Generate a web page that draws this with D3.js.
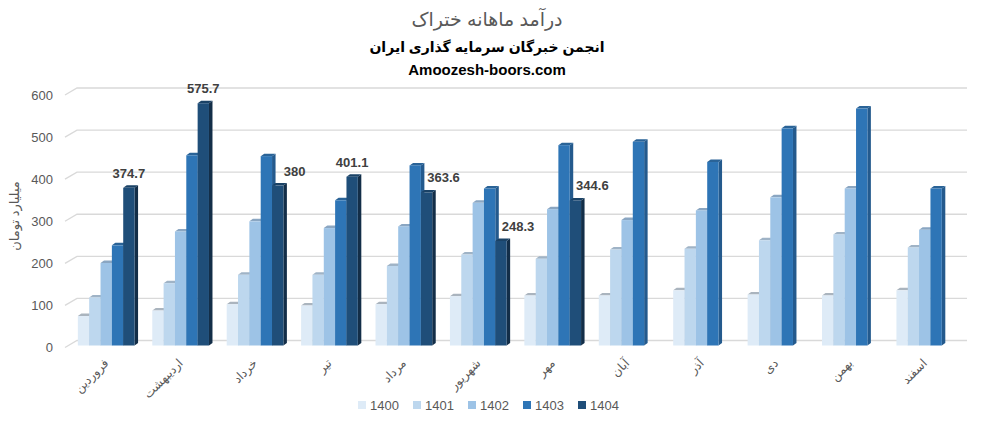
<!DOCTYPE html>
<html>
<head>
<meta charset="utf-8">
<script src="https://cdn.jsdelivr.net/npm/d3@7"></script>
<style>
  body { margin: 0; background: #fff; }
  svg { font-family: "Liberation Sans", Arial, "DejaVu Sans", sans-serif; }
</style>
</head>
<body>
<svg id="chart" width="996" height="427"></svg>
<script>
// months (x categories)
var months = ["فروردین", "اردیبهشت", "خرداد", "تیر", "مرداد", "شهریور", "مهر", "آبان", "آذر", "دی", "بهمن", "اسفند"];
var years = ["1400", "1401", "1402", "1403", "1404"];

// values, one array per year
var v1400 = [70, 83, 98, 95, 98, 117, 119, 119, 131, 121, 119, 131];
var v1401 = [114, 148, 168, 168, 189, 216, 206, 228, 230, 250, 264, 233];
var v1402 = [196, 271, 295, 279, 283, 339, 324, 298, 321, 352, 373, 275];
var v1403 = [238, 452, 450, 345, 428, 373, 476, 484, 436, 516, 563, 373];
var v1404 = [374.7, 575.7, 380, 401.1, 363.6, 248.3, 344.6, null, null, null, null, null];

var yTicks = [0, 100, 200, 300, 400, 500, 600];

var series = [v1400, v1401, v1402, v1403, v1404];
var frontColor = ["#DEEBF7", "#BDD7EE", "#9DC3E6", "#2E75B6", "#1F4E79"];
var topColor   = ["#AAB4BE", "#9FB3C6", "#8AA6C2", "#2A6397", "#1A4266"];
var sideColor  = ["#C4D1DD", "#A8BED3", "#86A8C8", "#245A8D", "#132E48"];

var svg = d3.select("#chart");

var x0 = d3.scaleBand().domain(months).range([69, 962]).paddingInner(0.238).paddingOuter(0.119);
var x1 = d3.scaleBand().domain(years).range([0, x0.bandwidth()]);
var y = d3.scaleLinear().domain([0, 600]).range([345.5, 93]);

var dx = 3.5, dy = 2.5, wallShift = 5;

// titles
svg.append("text").attr("x", 487).attr("y", 26).attr("text-anchor", "middle")
  .attr("font-size", 19).attr("fill", "#595959").text("درآمد ماهانه ختراک");
svg.append("text").attr("x", 487).attr("y", 52).attr("text-anchor", "middle")
  .attr("font-size", 14).attr("font-weight", "bold").attr("fill", "#000").text("انجمن خبرگان سرمایه گذاری ایران");
svg.append("text").attr("x", 487).attr("y", 75).attr("text-anchor", "middle")
  .attr("font-size", 15).attr("font-weight", "bold").attr("fill", "#000").text("Amoozesh-boors.com");

// gridlines with slanted left part (3D wall)
var grid = svg.append("g");
yTicks.forEach(function(t) {
  var gy = y(t) - wallShift;
  grid.append("path")
    .attr("d", "M65," + (gy + 7) + "L77," + gy + "L967," + gy)
    .attr("fill", "none").attr("stroke", "#D9D9D9").attr("stroke-width", 1.3);
  grid.append("text").attr("x", 53).attr("y", gy + 7).attr("dy", "0.35em")
    .attr("text-anchor", "end").attr("font-size", 13).attr("fill", "#595959").text(t);
});

// y axis title
svg.append("text").attr("transform", "translate(19,216) rotate(-90)")
  .attr("text-anchor", "middle").attr("font-size", 13).attr("fill", "#595959").text("میلیارد تومان");

// bars
var bars = svg.append("g");
months.forEach(function(m, i) {
  series.forEach(function(s, k) {
    var v = s[i];
    if (v == null) return;
    var bx = x0(m) + x1(years[k]), bw = x1.bandwidth();
    var top = y(v), bot = y(0);
    bars.append("path")
      .attr("d", "M" + (bx + bw) + "," + top + "L" + (bx + bw + dx) + "," + (top - dy) +
        "L" + (bx + bw + dx) + "," + (bot - dy) + "L" + (bx + bw) + "," + bot + "Z")
      .attr("fill", sideColor[k]);
    bars.append("path")
      .attr("d", "M" + bx + "," + top + "L" + (bx + dx) + "," + (top - dy) +
        "L" + (bx + bw + dx) + "," + (top - dy) + "L" + (bx + bw) + "," + top + "Z")
      .attr("fill", topColor[k]);
    bars.append("rect").attr("x", bx).attr("y", top).attr("width", bw).attr("height", bot - top)
      .attr("fill", frontColor[k]);
  });
});

// data labels for 1404
months.forEach(function(m, i) {
  var v = v1404[i];
  if (v == null) return;
  var cx = x0(m) + x1("1404") + x1.bandwidth() / 2;
  if (v1403[i] > v) cx += 17;
  svg.append("text").attr("x", cx).attr("y", y(v) - 10).attr("text-anchor", "middle")
    .attr("font-size", 13).attr("font-weight", "bold").attr("fill", "#404040").text(v);
});

// x labels
months.forEach(function(m) {
  var cx = x0(m) + x0.bandwidth() / 2;
  svg.append("text").attr("transform", "translate(" + (cx + 3) + ",364) rotate(-45)")
    .attr("text-anchor", "end").attr("font-size", 12).attr("fill", "#595959").text(m);
});

// legend
var leg = svg.append("g");
years.forEach(function(yr, k) {
  var lx = 358 + k * 55;
  leg.append("rect").attr("x", lx).attr("y", 401).attr("width", 8).attr("height", 8).attr("fill", frontColor[k]);
  leg.append("text").attr("x", lx + 12).attr("y", 405).attr("dy", "0.35em")
    .attr("font-size", 13).attr("fill", "#595959").text(yr);
});
</script>
</body>
</html>
